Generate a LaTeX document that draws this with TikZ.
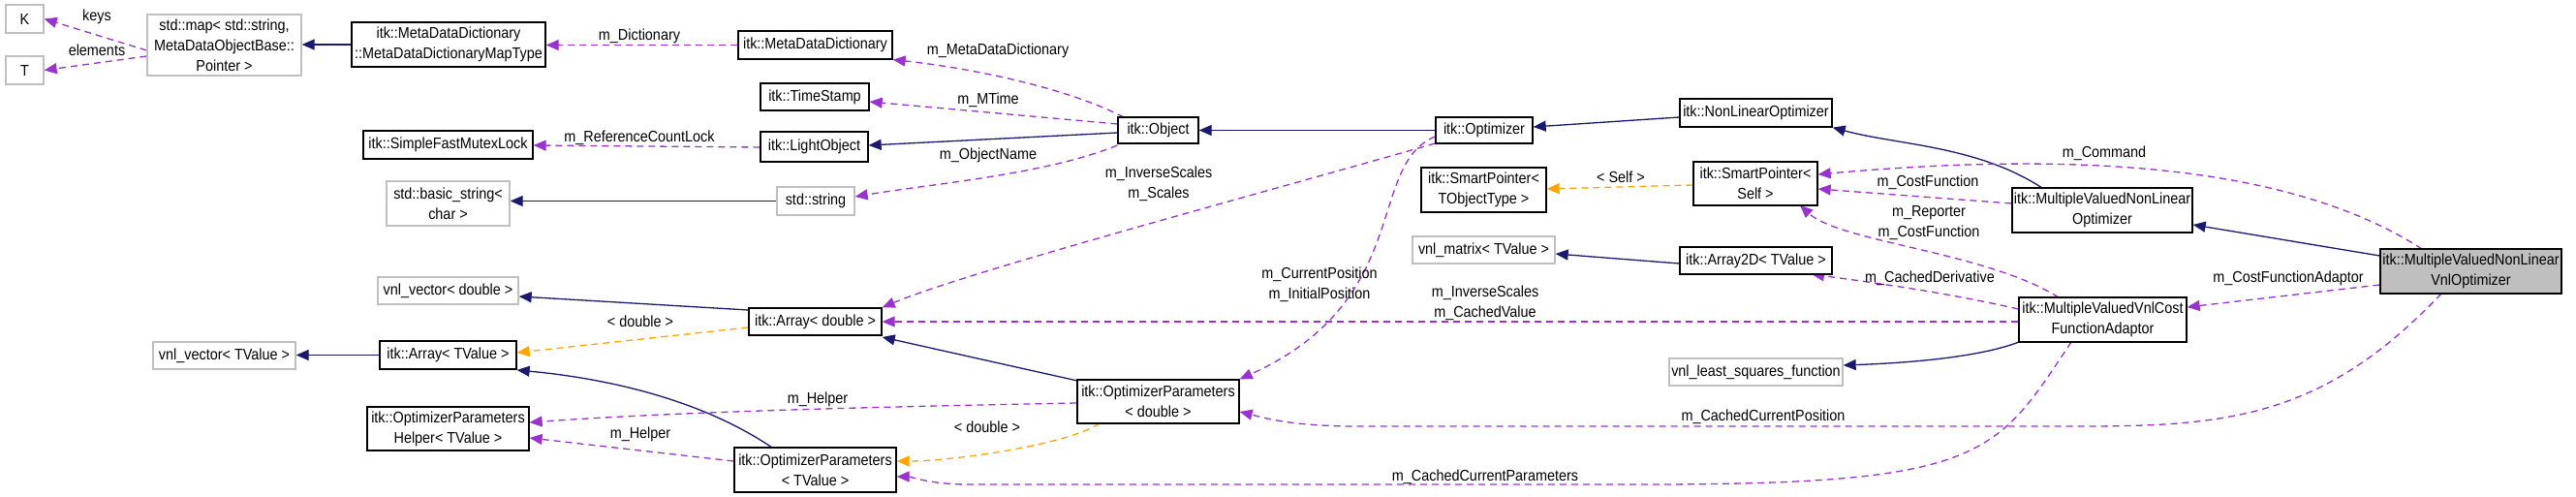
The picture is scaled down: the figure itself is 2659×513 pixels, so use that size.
\documentclass[tikz,border=0pt]{standalone}
\usepackage{fontspec}
\setmainfont{Liberation Sans}[FakeStretch=0.9]
\usetikzlibrary{arrows.meta}
\definecolor{inh}{HTML}{191970}
\definecolor{use}{HTML}{9A32CD}
\definecolor{tpl}{HTML}{FFA500}
\pgfdeclarelayer{bg}
\pgfsetlayers{bg,main}
\begin{document}
\begin{tikzpicture}[x=1pt,y=-1pt,
  box/.style={draw=black,line width=1.3pt,fill=white,inner sep=0pt,align=center,font=\fontsize{16}{21}\selectfont},
  gbox/.style={box,draw=black!25},
  mainbox/.style={box,fill=black!25},
  tip/.style={-{Triangle[length=13pt,width=11pt]}},
  inhe/.style={tip,draw=inh,line width=1.3pt},
  usee/.style={tip,draw=use,line width=1.3pt,dash pattern=on 7pt off 5pt},
  tple/.style={tip,draw=tpl,line width=1.3pt,dash pattern=on 7pt off 5pt},
  lab/.style={font=\fontsize{16}{21}\selectfont,align=center,inner sep=0pt}]
\begin{pgfonlayer}{bg}
\useasboundingbox[fill=white] (0,0) rectangle (2659,513);
\end{pgfonlayer}
\newcommand\nd[7]{\node[#6,minimum width={(#3-#2)*1pt},minimum height={(#5-#4)*1pt}] (#1) at ({(#2+#3)/2},{(#4+#5)/2}) {#7};}
\nd{K}{6}{45}{5}{34}{gbox}{K}
\nd{T}{6}{45}{58}{87}{gbox}{T}
\nd{map}{152}{311}{15}{78}{gbox}{std::map< std::string,\\ MetaDataObjectBase::\\ Pointer >}
\nd{mdmt}{363}{563}{23}{69}{box}{itk::MetaDataDictionary\\ ::MetaDataDictionaryMapType}
\nd{mdd}{762}{921}{32}{61}{box}{itk::MetaDataDictionary}
\nd{ts}{785}{897}{86}{114}{box}{itk::TimeStamp}
\nd{sfml}{375}{550}{135}{164}{box}{itk::SimpleFastMutexLock}
\nd{lo}{785}{896}{136}{167}{box}{itk::LightObject}
\nd{bs}{399}{526}{187}{233}{gbox}{std::basic\_string<\\ char >}
\nd{ss}{802}{882}{193}{222}{gbox}{std::string}
\nd{vvd}{390}{535}{286}{314}{gbox}{vnl\_vector< double >}
\nd{ad}{773}{910}{318}{346}{box}{itk::Array< double >}
\nd{vvt}{158}{305}{353}{381}{gbox}{vnl\_vector< TValue >}
\nd{at}{392}{533}{352}{381}{box}{itk::Array< TValue >}
\nd{oph}{379}{546}{420}{465}{box}{itk::OptimizerParameters\\ Helper< TValue >}
\nd{opt}{758}{925}{462}{508}{box}{itk::OptimizerParameters\\ < TValue >}
\nd{opd}{1112}{1279}{392}{437}{box}{itk::OptimizerParameters\\ < double >}
\nd{obj}{1154}{1237}{121}{148}{box}{itk::Object}
\nd{optz}{1482}{1582}{121}{148}{box}{itk::Optimizer}
\nd{spt}{1467}{1596}{173}{219}{box}{itk::SmartPointer<\\ TObjectType >}
\nd{vm}{1458}{1605}{244}{272}{gbox}{vnl\_matrix< TValue >}
\nd{nlo}{1734}{1891}{102}{131}{box}{itk::NonLinearOptimizer}
\nd{sps}{1748}{1876}{167}{212}{box}{itk::SmartPointer<\\ Self >}
\nd{a2}{1734}{1891}{255}{283}{box}{itk::Array2D< TValue >}
\nd{vls}{1723}{1902}{370}{398}{gbox}{vnl\_least\_squares\_function}
\nd{mvn}{2077}{2263}{194}{240}{box}{itk::MultipleValuedNonLinear\\ Optimizer}
\nd{cfa}{2084}{2257}{307}{353}{box}{itk::MultipleValuedVnlCost\\ FunctionAdaptor}
\nd{mn}{2457}{2644}{257}{303}{mainbox}{itk::MultipleValuedNonLinear\\ VnlOptimizer}
\begin{pgfonlayer}{bg}
\draw[usee] (map.west |- 0,52) -- (K.east);
\draw[usee] (map.west |- 0,58) -- (T.east);
\draw[inhe] (mdmt.west) -- (map.east |- mdmt.west);
\draw[usee] (mdd.west) -- (mdmt.east |- mdd.west);
\draw[usee] (1160,121) .. controls (1100,90) and (1000,70) .. (mdd.south east);
\draw[usee] (obj.west |- 0,128) -- (ts.east |- 0,105);
\draw[inhe] (obj.west |- 0,137) -- (lo.east |- 0,150);
\draw[usee] (lo.west |- 0,152) -- (sfml.east |- 0,150);
\draw[usee] (obj.west |- 0,150) .. controls (1080,180) and (960,190) .. (ss.east |- 0,203);
\draw[inhe] (ss.west) -- (bs.east |- ss.west);
\draw[inhe] (optz.west) -- (obj.east);
\draw[usee] (optz.west |- 0,148) .. controls (1300,200) and (1000,280) .. (ad.north east);
\draw[usee] (optz.west |- 0,141) .. controls (1410,170) and (1460,310) .. (opd.north east);
\draw[inhe] (nlo.west |- 0,121) -- (optz.east |- 0,131);
\draw[tple] (sps.west |- 0,191) -- (spt.east |- 0,195);
\draw[inhe] (2108,194) .. controls (2040,150) and (1960,150) .. (nlo.south east);
\draw[usee] (mvn.west |- 0,210) -- (sps.east |- 0,195);
\draw[usee] (2500,257) .. controls (2350,160) and (2100,160) .. (sps.east |- 0,180);
\draw[inhe] (mn.west |- 0,264) -- (mvn.east |- 0,232);
\draw[usee] (mn.west |- 0,294) -- (cfa.east |- 0,317);
\draw[usee] (2125,307) .. controls (2050,260) and (1900,250) .. (1858,212);
\draw[usee] (cfa.west |- 0,319) .. controls (2000,300) and (1920,290) .. (1870,283);
\draw[usee] (cfa.west |- 0,332) -- (ad.east |- 0,332);
\draw[inhe] (a2.west |- 0,272) -- (vm.east |- 0,262);
\draw[inhe] (2084,353) .. controls (2040,370) and (1960,375) .. (vls.east |- 0,377);
\draw[usee] (2138,353) .. controls (2060,470) and (2050,500) .. (1700,500) -- (1000,500) .. controls (960,500) and (940,492) .. (opt.east |- 0,492);
\draw[usee] (2520,303) .. controls (2400,430) and (2300,440) .. (2150,440) -- (1400,440) .. controls (1330,440) and (1300,430) .. (opd.east |- 0,425);
\draw[inhe] (ad.west |- 0,320) -- (vvd.east |- 0,306);
\draw[tple] (ad.west |- 0,338) -- (at.east |- 0,364);
\draw[inhe] (at.west) -- (vvt.east |- at.west);
\draw[inhe] (797,462) .. controls (720,410) and (620,390) .. (at.east |- 0,382);
\draw[inhe] (1112,393) -- (ad.east |- 0,348);
\draw[usee] (opd.west |- 0,416) .. controls (900,420) and (700,425) .. (oph.east |- 0,436);
\draw[usee] (opt.west |- 0,476) -- (oph.east |- 0,452);
\draw[tple] (1135,437) .. controls (1100,460) and (980,476) .. (opt.east |- 0,476);
\end{pgfonlayer}
\node[lab] at (100,17) {keys};
\node[lab] at (100,52) {elements};
\node[lab] at (660,37) {m\_Dictionary};
\node[lab] at (1030,52) {m\_MetaDataDictionary};
\node[lab] at (1020,103) {m\_MTime};
\node[lab] at (660,142) {m\_ReferenceCountLock};
\node[lab] at (1020,160) {m\_ObjectName};
\node[lab] at (1196,190) {m\_InverseScales\\ m\_Scales};
\node[lab] at (1362,294) {m\_CurrentPosition\\ m\_InitialPosition};
\node[lab] at (1673,183) {< Self >};
\node[lab] at (1990,188) {m\_CostFunction};
\node[lab] at (2172,158) {m\_Command};
\node[lab] at (2362,287) {m\_CostFunctionAdaptor};
\node[lab] at (1991,230) {m\_Reporter\\ m\_CostFunction};
\node[lab] at (1992,287) {m\_CachedDerivative};
\node[lab] at (1533,313) {m\_InverseScales\\ m\_CachedValue};
\node[lab] at (1533,492) {m\_CachedCurrentParameters};
\node[lab] at (1820,430) {m\_CachedCurrentPosition};
\node[lab] at (661,332) {< double >};
\node[lab] at (844,412) {m\_Helper};
\node[lab] at (661,448) {m\_Helper};
\node[lab] at (1019,441) {< double >};
\end{tikzpicture}
\end{document}
